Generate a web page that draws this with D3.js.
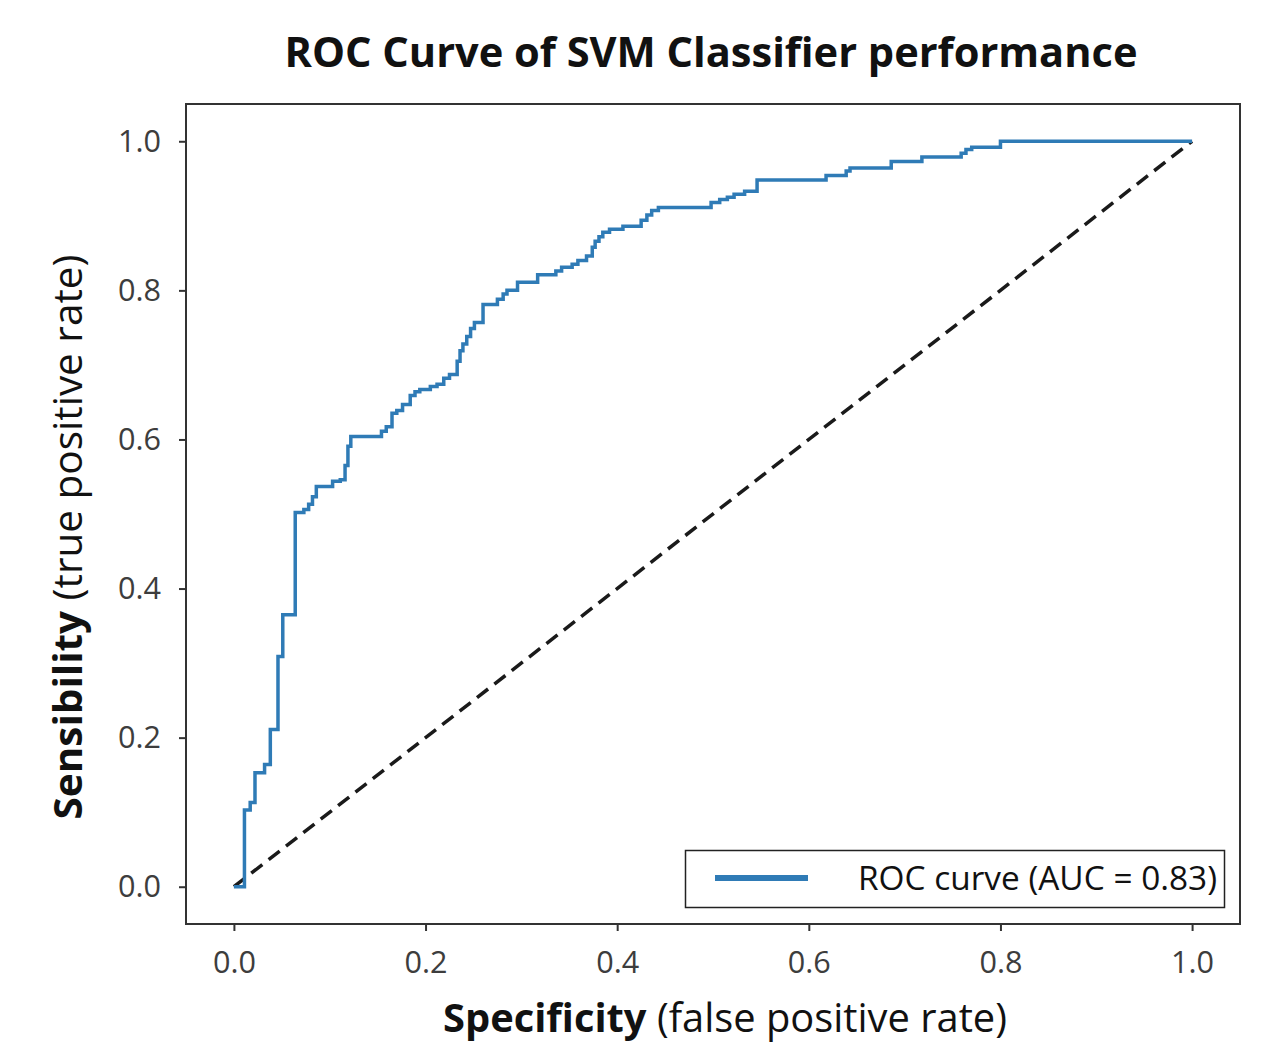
<!DOCTYPE html>
<html>
<head>
<meta charset="utf-8">
<script src="https://cdn.jsdelivr.net/npm/d3@7"></script>
<style>
  body { margin: 0; background: #fff; }
  text { font-family: "Open Sans", "DejaVu Sans", sans-serif; }
</style>
</head>
<body>
<svg id="chart" width="1271" height="1043"></svg>
<script>
const svg = d3.select('#chart')
const blue = '#2f7bb6'
const axisColor = '#333'
const labelColor = '#3d3d3d'

// ROC corner points (value reached after each step)
const fpr = [0, .011, .017, .022, .032, .038, .046, .051, .064, .073, .078, .082, .086, .103, .111, .116, .119, .122,
	.154, .159, .165, .170, .176, .184, .189, .194, .205, .212, .219, .225, .233, .236, .239, .243, .247, .251, .260,
	.275, .281, .285, .296, .317, .336, .342, .353, .359, .368, .374, .377, .381, .385, .392, .406, .425, .431, .436,
	.443, .498, .507, .515, .522, .533, .546, .618, .639, .643, .686, .718, .759, .764, .770, .800, 1]
const tpr = [0, .103, .113, .153, .164, .211, .309, .365, .502, .506, .513, .523, .537, .544, .546, .565, .591, .604,
	.611, .617, .635, .639, .647, .659, .664, .667, .671, .674, .682, .687, .705, .719, .728, .738, .749, .757, .781,
	.788, .795, .800, .811, .821, .826, .831, .835, .840, .846, .858, .866, .872, .878, .882, .886, .894, .901, .907,
	.911, .918, .922, .925, .929, .933, .948, .954, .960, .964, .973, .979, .984, .989, .992, 1, 1]
const chanceLine = [0, 1]
const xTicks = [0, 0.2, 0.4, 0.6, 0.8, 1.0]
const yTicks = [0, 0.2, 0.4, 0.6, 0.8, 1.0]
const aucLabel = 'ROC curve (AUC = 0.83)'

const plotLeft = 186, plotRight = 1240, plotTop = 104, plotBottom = 924

const xScale = d3.scaleLinear()
	.domain([-0.05, 1.05])
	.range([plotLeft, plotRight])

const yScale = d3.scaleLinear()
	.domain([-0.05, 1.05])
	.range([plotBottom, plotTop])

const points = fpr.map((f, i) => [f, tpr[i]])

// title
svg.append('text')
	.attr('x', 711)
	.attr('y', 67)
	.attr('text-anchor', 'middle')
	.attr('font-size', 42)
	.attr('font-weight', 700)
	.attr('textLength', 853)
	.attr('lengthAdjust', 'spacingAndGlyphs')
	.attr('fill', '#111')
	.text('ROC Curve of SVM Classifier performance')

// axes
const xAxis = d3.axisBottom(xScale)
	.tickValues(xTicks)
	.tickFormat(d3.format('.1f'))
	.tickSize(7)
	.tickSizeOuter(0)

const yAxis = d3.axisLeft(yScale)
	.tickValues(yTicks)
	.tickFormat(d3.format('.1f'))
	.tickSize(7)
	.tickSizeOuter(0)

const gx = svg.append('g')
	.attr('transform', `translate(0, ${plotBottom})`)
	.call(xAxis)

const gy = svg.append('g')
	.attr('transform', `translate(${plotLeft}, 0)`)
	.call(yAxis)

svg.selectAll('path.domain').remove()
svg.selectAll('.tick line')
	.style('stroke', axisColor)
	.style('stroke-width', 2)
svg.selectAll('.tick text')
	.style('font-size', '31px')
	.style('font-family', '"Open Sans", sans-serif')
	.style('fill', labelColor)
	.attr('textLength', 43)
	.attr('lengthAdjust', 'spacingAndGlyphs')
gx.selectAll('.tick text').attr('y', 27)
gy.selectAll('.tick text').attr('x', -25)

// chance diagonal
svg.append('path')
	.datum(chanceLine)
	.attr('d', d3.line().x(d => xScale(d)).y(d => yScale(d)))
	.attr('fill', 'none')
	.attr('stroke', '#1a1a1a')
	.attr('stroke-width', 3.5)
	.attr('stroke-dasharray', '14,8')

// roc curve
svg.append('path')
	.datum(points)
	.attr('d', d3.line().curve(d3.curveStepAfter).x(d => xScale(d[0])).y(d => yScale(d[1])))
	.attr('fill', 'none')
	.attr('stroke', blue)
	.attr('stroke-width', 3.5)

// frame
svg.append('rect')
	.attr('x', plotLeft)
	.attr('y', plotTop)
	.attr('width', plotRight - plotLeft)
	.attr('height', plotBottom - plotTop)
	.attr('fill', 'none')
	.attr('stroke', axisColor)
	.attr('stroke-width', 2)

// legend
const legend = svg.append('g')
legend.append('rect')
	.attr('x', 685.5)
	.attr('y', 850.5)
	.attr('width', 539)
	.attr('height', 57)
	.attr('fill', '#fff')
	.attr('stroke', '#222')
	.attr('stroke-width', 1.5)
legend.append('line')
	.attr('x1', 715).attr('x2', 808)
	.attr('y1', 878).attr('y2', 878)
	.attr('stroke', blue)
	.attr('stroke-width', 6)
legend.append('text')
	.attr('x', 858)
	.attr('y', 890)
	.attr('font-size', 32)
	.attr('fill', '#111')
	.attr('textLength', 359)
	.attr('lengthAdjust', 'spacingAndGlyphs')
	.text(aucLabel)

// axis labels
const xl = svg.append('text')
	.attr('x', 725)
	.attr('y', 1032)
	.attr('text-anchor', 'middle')
	.attr('font-size', 40)
	.attr('fill', '#111')
	.attr('textLength', 564)
	.attr('lengthAdjust', 'spacingAndGlyphs')
xl.append('tspan').attr('font-weight', 700).text('Specificity')
xl.append('tspan').text(' (false positive rate)')

const yl = svg.append('text')
	.attr('transform', 'translate(82, 537) rotate(-90)')
	.attr('text-anchor', 'middle')
	.attr('font-size', 40)
	.attr('fill', '#111')
	.attr('textLength', 565)
	.attr('lengthAdjust', 'spacingAndGlyphs')
yl.append('tspan').attr('font-weight', 700).text('Sensibility')
yl.append('tspan').text(' (true positive rate)')
</script>
</body>
</html>
